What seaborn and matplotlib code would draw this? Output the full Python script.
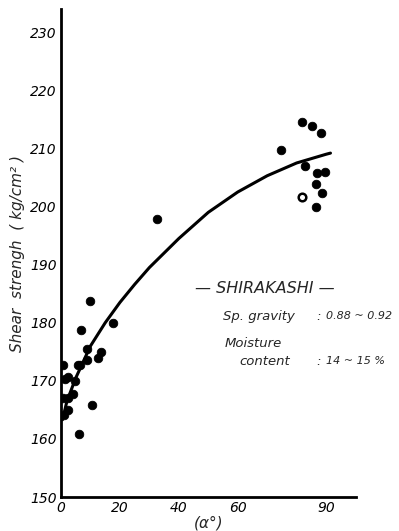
import matplotlib
matplotlib.use("Agg")
import matplotlib.pyplot as plt
import seaborn as sns
import pandas as pd

# measured points: fibre angle (deg) vs shear strength (kg/cm2)
alpha_deg = [0.6, 0.6, 2.5, 1.5, 2.3, 2.5, 1.0, 4.8, 4.2, 5.6, 6.4, 6.2,
             6.8, 8.7, 8.7, 9.9, 10.4, 12.7, 13.6, 17.8, 32.7,
             74.8, 81.9, 85.3, 88.3, 83.0, 86.9, 89.8, 86.7, 88.6, 81.9, 86.7]
strength = [172.7, 167.1, 170.7, 170.3, 167.0, 165.0, 164.2, 170.0, 167.8, 172.8, 172.8, 160.8,
            178.7, 175.4, 173.6, 183.8, 165.8, 173.9, 175.0, 179.9, 197.9,
            209.7, 214.6, 213.9, 212.7, 206.9, 205.7, 205.9, 203.9, 202.3, 201.6, 199.9]
hollow = [False] * 30 + [True, False]

# hand-drawn mean curve
curve_x = [0.5, 2, 5, 10, 15, 20, 25, 30, 40, 50, 60, 70, 80, 90, 91.5]
curve_y = [163.3, 166.5, 170.5, 176.0, 180.0, 183.5, 186.6, 189.5, 194.5, 199.0, 202.5, 205.3, 207.5, 209.0, 209.2]

df = pd.DataFrame({"alpha": alpha_deg, "strength": strength, "hollow": hollow})
curve = pd.DataFrame({"alpha": curve_x, "strength": curve_y})

sns.set_style("white")
plt.rcParams["font.family"] = ["DejaVu Sans"]

fig = plt.figure(figsize=(3.99, 5.31), dpi=100)
ax = fig.add_axes([0.153, 0.064, 0.738, 0.919])

sns.lineplot(data=curve, x="alpha", y="strength", color="black", lw=2.2, ax=ax, sort=True)
sns.scatterplot(data=df[~df.hollow], x="alpha", y="strength", color="black", s=38,
                edgecolor="black", linewidth=0.6, ax=ax, zorder=3)
sns.scatterplot(data=df[df.hollow], x="alpha", y="strength", color="white", s=30,
                edgecolor="black", linewidth=1.8, ax=ax, zorder=3)

ax.set_xlim(0, 100)
ax.set_ylim(150, 234)
ax.set_xticks([0, 20, 40, 60, 90])
ax.set_xticks([10, 30, 50, 70, 80], minor=True)
ax.set_yticks(range(150, 231, 10))
ax.tick_params(axis="both", which="both", direction="in", length=4, width=2, colors="black",
               labelsize=10)
ax.tick_params(axis="both", which="major", pad=3)
for lab in ax.get_xticklabels() + ax.get_yticklabels():
    lab.set_style("italic")

sns.despine(ax=ax)
for s in ["left", "bottom"]:
    ax.spines[s].set_linewidth(2)
    ax.spines[s].set_color("black")

ax.set_xlabel("(α°)", fontsize=11, style="italic", labelpad=0)
ax.set_ylabel("Shear  strengh  ( kg/cm² )", fontsize=11, style="italic", labelpad=4)

note = dict(transform=fig.transFigure, style="italic", va="center")
ax.text(0.489, 0.456, "— SHIRAKASHI —", fontsize=11.5, **note)
ax.text(0.559, 0.404, "Sp. gravity", fontsize=9.5, **note)
ax.text(0.792, 0.404, ":", fontsize=9.5, **note)
ax.text(0.818, 0.404, "0.88 ~ 0.92", fontsize=8, **note)
ax.text(0.562, 0.354, "Moisture", fontsize=9.5, **note)
ax.text(0.600, 0.320, "content", fontsize=9.5, **note)
ax.text(0.792, 0.320, ":", fontsize=9.5, **note)
ax.text(0.818, 0.320, "14 ~ 15 %", fontsize=8, **note)

fig.savefig("out.png", dpi=100)
